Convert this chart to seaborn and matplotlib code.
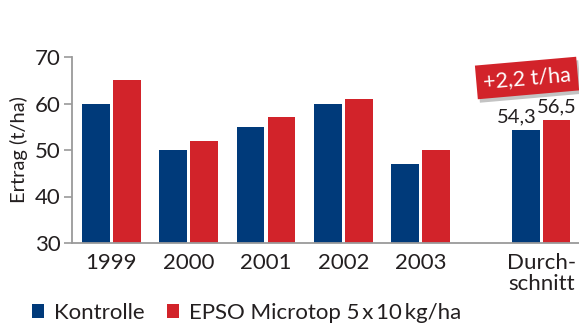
import matplotlib
matplotlib.use("Agg")
import matplotlib.pyplot as plt
import matplotlib.patheffects as pe
from matplotlib.ticker import FixedLocator
import numpy as np
import pandas as pd
import seaborn as sns

# Yield per year and the average of all years (t/ha)
labels = ["1999", "2000", "2001", "2002", "2003", "Durch-\nschnitt"]
positions = [0, 1, 2, 3, 4, 5.56]
kontrolle = [60, 50, 55, 60, 47, 54.3]
epso = [65, 52, 57, 61, 50, 56.5]
series = ["Kontrolle", "EPSO Microtop 5\u2009x\u200910\u2009kg/ha"]
avg_labels = ["54,3", "56,5"]
badge = "+2,2 t/ha"

BLUE = "#003a7a"
RED = "#d2232a"
TEXT = "#231f20"
AXIS = "#9a9a9a"

df = pd.DataFrame({
    "pos": positions * 2,
    "ertrag": kontrolle + epso,
    "variante": [series[0]] * len(positions) + [series[1]] * len(positions),
})

sns.set_theme(style="white")
plt.rcParams["font.family"] = ["Lato", "DejaVu Sans"]
plt.rcParams["text.color"] = TEXT

fig = plt.figure(figsize=(5.79, 3.25), dpi=100)
ax = fig.add_axes([72 / 579, 1 - 243 / 325, 1 - 72 / 579, (243 - 57) / 325])

sns.barplot(data=df, x="pos", y="ertrag", hue="variante", native_scale=True,
            palette=[BLUE, RED], saturation=1, width=0.8, gap=0.1,
            linewidth=0, ax=ax)

ax.set_ylim(30, 70)
ax.set_xlim(-0.51, 6.05)
ax.set_yticks([30, 40, 50, 60, 70])
ax.set_xticks(positions)
ax.set_xticklabels(labels, fontsize=16, color=TEXT, linespacing=1.1)
ax.xaxis.set_minor_locator(FixedLocator([0.5, 1.5, 2.5, 3.5, 4.5]))
ax.tick_params(axis="x", which="major", length=0, pad=7)
ax.tick_params(axis="x", which="minor", direction="in", length=4,
               width=1.2, color=AXIS)
ax.tick_params(axis="y", direction="out", length=6, width=1.2, color=AXIS,
               labelsize=16, labelcolor=TEXT, pad=2, left=True)
ax.set_xlabel("")
ax.set_ylabel("Ertrag (t/ha)", fontsize=14.5, color=TEXT, labelpad=5)

sns.despine(ax=ax)
for side in ("left", "bottom"):
    ax.spines[side].set_color(AXIS)
    ax.spines[side].set_linewidth(1.3)
ax.spines["bottom"].set_clip_on(False)

# Value labels above the average bars
off = 0.8 / 4
ax.text(positions[-1] - off - 0.11, kontrolle[-1] + 1.0, avg_labels[0],
        ha="center", va="bottom", fontsize=14.5, color=TEXT)
ax.text(positions[-1] + off, epso[-1] + 1.0, avg_labels[1],
        ha="center", va="bottom", fontsize=14.5, color=TEXT)

# Difference badge
t = fig.text(527 / 579, 1 - 78 / 325, badge, ha="center", va="center",
             rotation=5, fontsize=15.5, color="white",
             bbox=dict(boxstyle="square,pad=0.32", fc=RED, ec="none"))
t.get_bbox_patch().set_path_effects([
    pe.SimplePatchShadow(offset=(1.5, -2.5), shadow_rgbFace="#888888", alpha=0.5),
    pe.Normal(),
])

sns.move_legend(ax, "lower left", bbox_to_anchor=(0.02, -0.055),
                bbox_transform=fig.transFigure, ncol=2, frameon=False,
                title=None, fontsize=16, handlelength=0.55, handleheight=0.55,
                handletextpad=0.45, columnspacing=1.0)

fig.savefig("out.png", dpi=100)
